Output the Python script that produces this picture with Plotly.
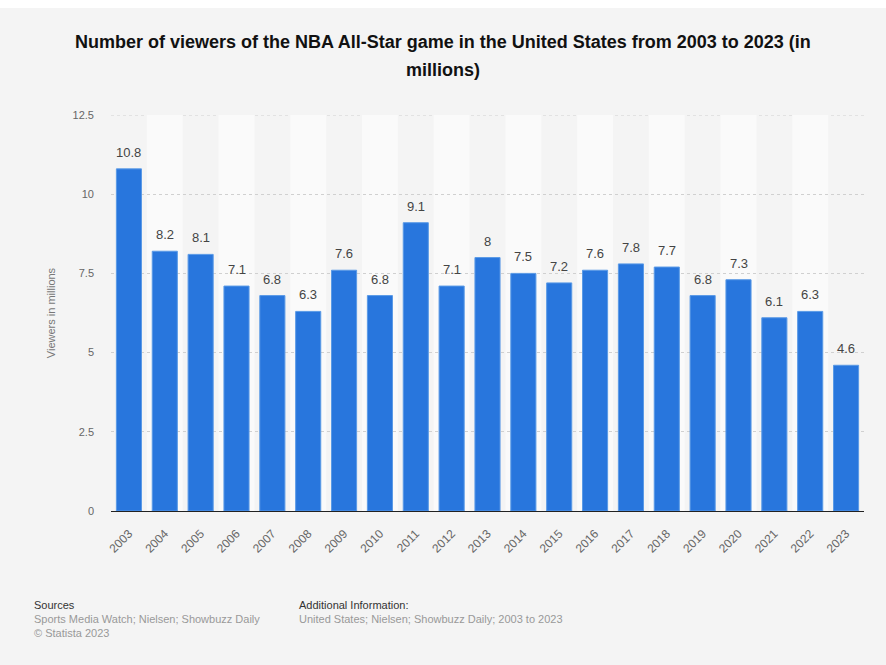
import plotly.graph_objects as go

years = [str(y) for y in range(2003, 2024)]
viewers = [10.8, 8.2, 8.1, 7.1, 6.8, 6.3, 7.6, 6.8, 9.1, 7.1, 8, 7.5, 7.2, 7.6, 7.8, 7.7, 6.8, 7.3, 6.1, 6.3, 4.6]
value_labels = ["10.8", "8.2", "8.1", "7.1", "6.8", "6.3", "7.6", "6.8", "9.1", "7.1", "8", "7.5", "7.2", "7.6", "7.8", "7.7", "6.8", "7.3", "6.1", "6.3", "4.6"]
y_ticks = [0, 2.5, 5, 7.5, 10, 12.5]
y_tick_text = ["0", "2.5", "5", "7.5", "10", "12.5"]

title_line1 = "Number of viewers of the NBA All-Star game in the United States from 2003 to 2023 (in"
title_line2 = "millions)"

FONT = "Liberation Sans, Arial, Helvetica, sans-serif"
BG = "#f4f4f4"

fig = go.Figure()
fig.add_trace(go.Bar(
    x=list(range(len(years))), y=viewers,
    marker=dict(color="#2876dd", line=dict(color="#5a9ae6", width=1)),
    width=0.7,
    hovertext=years, hoverinfo="text+y",
))

shapes = []
# outer card
shapes.append(dict(type="rect", xref="paper", yref="paper",
                   x0=-111/753, x1=(886-111)/753, y0=-154/396, y1=(396+115-8)/396,
                   fillcolor=BG, line=dict(width=0), layer="below"))
# alternating bands
for i in range(len(years)):
    if i % 2 == 1:
        shapes.append(dict(type="rect", xref="x", yref="y", x0=i-0.5, x1=i+0.5, y0=0, y1=12.5,
                           fillcolor="#fafafa", line=dict(width=0), layer="below"))
# top gridline at 12.5
shapes.append(dict(type="line", xref="paper", yref="y", x0=0, x1=1, y0=12.5, y1=12.5,
                   line=dict(color="#d0d0d0", width=1, dash="dot"), layer="below"))

annotations = []
for i, (v, lab) in enumerate(zip(viewers, value_labels)):
    annotations.append(dict(x=i, y=v, xref="x", yref="y", text=lab, showarrow=False, yanchor="bottom", yshift=7,
                            font=dict(family=FONT, size=13, color="#444444")))

annotations += [
    dict(xref="paper", yref="paper", x=(443-111)/753, y=(511-42)/396, text="<b>"+title_line1+"</b>",
         showarrow=False, xanchor="center", yanchor="middle", font=dict(family=FONT, size=18, color="#111111")),
    dict(xref="paper", yref="paper", x=(443-111)/753, y=(511-70)/396, text="<b>"+title_line2+"</b>",
         showarrow=False, xanchor="center", yanchor="middle", font=dict(family=FONT, size=18, color="#111111")),
    dict(xref="paper", yref="paper", x=(32-111)/753, y=(511-605)/396, text="Sources",
         showarrow=False, xanchor="left", yanchor="middle", font=dict(family=FONT, size=11, color="#333333")),
    dict(xref="paper", yref="paper", x=(32-111)/753, y=(511-619)/396, text="Sports Media Watch; Nielsen; Showbuzz Daily",
         showarrow=False, xanchor="left", yanchor="middle", font=dict(family=FONT, size=11, color="#999999")),
    dict(xref="paper", yref="paper", x=(32-111)/753, y=(511-633)/396, text="© Statista 2023",
         showarrow=False, xanchor="left", yanchor="middle", font=dict(family=FONT, size=11, color="#999999")),
    dict(xref="paper", yref="paper", x=(297-111)/753, y=(511-605)/396, text="Additional Information:",
         showarrow=False, xanchor="left", yanchor="middle", font=dict(family=FONT, size=11, color="#333333")),
    dict(xref="paper", yref="paper", x=(297-111)/753, y=(511-619)/396, text="United States; Nielsen; Showbuzz Daily; 2003 to 2023",
         showarrow=False, xanchor="left", yanchor="middle", font=dict(family=FONT, size=11, color="#999999")),
]

fig.update_layout(
    width=886, height=665,
    margin=dict(l=111, r=22, t=115, b=154),
    paper_bgcolor="white",
    plot_bgcolor="rgba(0,0,0,0)",
    showlegend=False,
    shapes=shapes,
    annotations=annotations,
    font=dict(family=FONT, color="#666666"),
)
fig.update_xaxes(
    range=[-0.5, len(years)-0.5],
    tickmode="array", tickvals=list(range(len(years))), ticktext=years,
    tickangle=-45,
    tickfont=dict(family=FONT, size=12, color="#666666"),
    showline=True, linecolor="#222222", linewidth=1,
    showgrid=False, zeroline=False, ticks="", ticklabelstandoff=10,
)
fig.update_yaxes(
    range=[0, 12.5],
    tickvals=y_ticks, ticktext=y_tick_text,
    tickfont=dict(family=FONT, size=11, color="#666666"),
    showgrid=True, gridcolor="#d0d0d0", griddash="dot", gridwidth=1,
    zeroline=False, ticks="", ticklabelstandoff=16,
    title=dict(text="Viewers in millions", font=dict(family=FONT, size=11, color="#777777"), standoff=14),
)

fig.write_html("out.html")
